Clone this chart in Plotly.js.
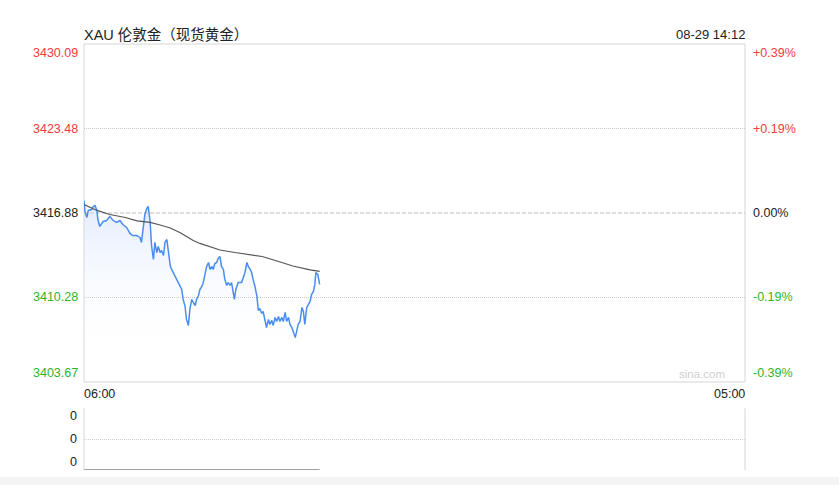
<!DOCTYPE html>
<html>
<head>
<meta charset="utf-8">
<script src="https://cdn.plot.ly/plotly-3.0.1.min.js"></script>
<style>html,body{margin:0;padding:0;background:#fff;}#chart{width:839px;height:485px;}</style>
</head>
<body>
<div id="chart"></div>
<script>
// ---- data (minutes after 06:00) ----
const priceMinutes = [0,2,6,9,16,19,23,27,29,33,40,47,54,61,68,75,81,89,96,102,110,117,120,123,127,131,134,138,141,145,148,152,155,159,162,166,169,173,176,180,183,190,197,204,207,211,214,218,221,225,228,232,235,239,242,246,249,253,256,260,263,267,270,273,277,280,284,287,291,294,298,301,305,308,312,314,317,322,329,333,336,340,343,347,350,353,357,361,364,367,371,374,378,381,385,388,392,395,399,402,406,409,413,416,420,423,427,430,434,437,441,444,447,451,455,458,461,465,468,472,475,479,482,484,488,492];
const priceValues = [3417.86,3417.00,3416.53,3417.08,3417.15,3417.39,3417.47,3417.08,3416.37,3415.83,3416.22,3416.29,3416.61,3416.29,3416.14,3416.29,3415.98,3415.75,3415.28,3415.12,3415.12,3414.97,3414.58,3415.75,3416.76,3417.23,3417.39,3416.22,3414.34,3413.25,3414.58,3413.79,3414.26,3413.79,3413.95,3413.56,3414.58,3414.81,3414.03,3412.78,3412.47,3411.92,3411.45,3410.90,3410.12,3409.58,3408.56,3408.09,3409.34,3410.12,3409.89,3409.65,3410.12,3410.43,3410.90,3411.14,3411.45,3412.23,3412.70,3413.01,3412.47,3412.70,3412.47,3412.93,3413.01,3413.33,3413.48,3412.70,3412.47,3411.69,3411.22,3411.45,3411.22,3411.45,3410.67,3410.12,3410.90,3411.45,3411.45,3411.92,3412.23,3413.01,3412.70,3412.47,3412.23,3411.69,3411.14,3410.36,3409.26,3409.42,3409.03,3409.18,3408.56,3407.93,3408.56,3408.17,3408.48,3408.09,3408.72,3408.40,3408.79,3408.40,3408.72,3408.40,3409.11,3408.40,3408.72,3408.17,3407.93,3407.54,3407.15,3407.62,3408.17,3408.40,3409.50,3409.18,3408.17,3409.50,3409.73,3409.97,3410.51,3410.75,3411.30,3412.23,3412.08,3411.30];
const avgMinutes = [0,19,27,54,86,111,138,159,180,200,215,228,242,263,284,315,347,372,403,436,472,492];
const avgValues = [3417.54,3417.23,3417.08,3416.76,3416.53,3416.26,3416.14,3415.94,3415.71,3415.36,3415.04,3414.73,3414.50,3414.22,3413.99,3413.79,3413.64,3413.48,3413.13,3412.74,3412.43,3412.31];
const volumeMinutes = [0,492];
const volumeValues = [0,0];
const prevClose = 3416.88;
const priceTicks = [3430.09,3423.48,3416.88,3410.28,3403.67];
const pctTicks = ['+0.39%','+0.19%','0.00%','-0.19%','-0.39%'];
const volTicks = [2,1,0];
const volTickLabels = ['0','0','0'];
const timeLabels = ['06:00','05:00'];
const sessionMinutes = 1380;
const titleText = 'XAU 伦敦金（现货黄金）';
const stampText = '08-29 14:12';

// ---- styles ----
const RED = '#f23b3b', GREEN = '#2bb52b', BLACK = '#222';
const FONT = 'Liberation Sans, Arial, Helvetica, sans-serif';
const colorFor = v => v > prevClose ? RED : (v < prevClose ? GREEN : BLACK);

const traces = [
  {x: priceMinutes, y: priceValues, type: 'scatter', mode: 'lines', xaxis: 'x', yaxis: 'y',
   line: {color: '#4a8df0', width: 1.5}, fill: 'tozeroy',
   fillgradient: {type: 'vertical', start: 3405.3, stop: 3418,
     colorscale: [[0, 'rgba(255,255,255,0)'], [1, 'rgba(196,216,250,0.5)']]},
   hoverinfo: 'skip'},
  {x: avgMinutes, y: avgValues, type: 'scatter', mode: 'lines', xaxis: 'x', yaxis: 'y',
   line: {color: '#555', width: 1.2}, hoverinfo: 'skip'},
  {x: volumeMinutes, y: volumeValues, type: 'scatter', mode: 'lines', xaxis: 'x', yaxis: 'y2',
   line: {color: '#a0a0a0', width: 2}, hoverinfo: 'skip'}
];

const annotations = [];
priceTicks.forEach((v, i) => {
  const anchor = i === 0 ? 'top' : (i === priceTicks.length - 1 ? 'bottom' : 'middle');
  annotations.push({x: 0, xref: 'paper', y: v, yref: 'y', xanchor: 'right', yanchor: anchor,
    xshift: -4, text: v.toFixed(2), showarrow: false, font: {family: FONT, size: 12.5, color: colorFor(v)}});
  annotations.push({x: 1, xref: 'paper', y: v, yref: 'y', xanchor: 'left', yanchor: anchor,
    xshift: 6, text: pctTicks[i], showarrow: false, font: {family: FONT, size: 12.5, color: colorFor(v)}});
});
volTicks.forEach((v, i) => {
  const anchor = i === 0 ? 'top' : (i === volTicks.length - 1 ? 'bottom' : 'middle');
  const ys = i === 0 ? 1 : (i === volTicks.length - 1 ? -1 : 0);
  annotations.push({x: 0, xref: 'paper', y: v, yref: 'y2', xanchor: 'right', yanchor: anchor,
    xshift: -5, yshift: ys, text: volTickLabels[i], showarrow: false, font: {family: FONT, size: 12.5, color: BLACK}});
});
annotations.push({x: 0, xref: 'x', y: 0.178, yref: 'paper', xanchor: 'left', yanchor: 'middle',
  xshift: -2, text: timeLabels[0], showarrow: false, font: {family: FONT, size: 12.5, color: BLACK}});
annotations.push({x: sessionMinutes, xref: 'x', y: 0.178, yref: 'paper', xanchor: 'right', yanchor: 'middle',
  xshift: 2, text: timeLabels[1], showarrow: false, font: {family: FONT, size: 12.5, color: BLACK}});
annotations.push({x: 0, xref: 'paper', y: 1, yref: 'paper', xanchor: 'left', yanchor: 'bottom',
  yshift: -1, xshift: -2, text: titleText, showarrow: false,
  font: {family: 'Liberation Sans, Noto Sans CJK SC, sans-serif', size: 14.5, color: BLACK}});
annotations.push({x: 1, xref: 'paper', y: 1, yref: 'paper', xanchor: 'right', yanchor: 'bottom',
  xshift: 2, text: stampText, showarrow: false, font: {family: FONT, size: 13, color: BLACK}});
annotations.push({x: 0.935, xref: 'paper', y: 3403.67, yref: 'y', xanchor: 'center', yanchor: 'bottom',
  text: 'sina.com', showarrow: false, font: {family: FONT, size: 11.5, color: '#cfcfcf'}});

const shapes = [
  // main frame
  {type: 'rect', xref: 'paper', yref: 'y domain', x0: 0, x1: 1, y0: 0, y1: 1, line: {color: '#d6d6d6', width: 1}, layer: 'below'},
  // previous close reference line
  {type: 'line', xref: 'paper', yref: 'y', x0: 0, x1: 1, y0: prevClose, y1: prevClose,
   line: {color: '#bdbdbd', width: 1, dash: '4px,2px'}, layer: 'below'},
  // volume panel side borders
  {type: 'line', xref: 'paper', yref: 'y2 domain', x0: 0, x1: 0, y0: 0, y1: 1, line: {color: '#d6d6d6', width: 1}},
  {type: 'line', xref: 'paper', yref: 'y2 domain', x0: 1, x1: 1, y0: 0, y1: 1, line: {color: '#d6d6d6', width: 1}},
  // bottom grey strip
  {type: 'rect', xref: 'paper', yref: 'paper', x0: -0.13, x1: 1.15, y0: -0.0164, y1: -0.04, fillcolor: '#f4f4f4', line: {width: 0}, layer: 'below'}
];

const layout = {
  width: 839, height: 485,
  margin: {l: 84, r: 94, t: 44, b: 15},
  paper_bgcolor: '#fff', plot_bgcolor: 'rgba(0,0,0,0)',
  showlegend: false,
  font: {family: FONT, size: 12, color: BLACK},
  xaxis: {range: [0, sessionMinutes], showgrid: false, zeroline: false, showticklabels: false,
          ticks: '', showline: false, anchor: 'y2', fixedrange: true},
  yaxis: {domain: [0.2066, 1], range: [priceTicks[4], priceTicks[0]], tickvals: [priceTicks[1], priceTicks[3]],
          showticklabels: false, ticks: '', showgrid: true, gridcolor: '#c8c8c8', griddash: '1px,1px',
          gridwidth: 1, zeroline: false, showline: false},
  yaxis2: {domain: [0, 0.1455], range: [0, 2], tickvals: volTicks, showticklabels: false, ticks: '',
           showgrid: true, gridcolor: '#cfcfcf', griddash: '1px,1px', gridwidth: 1, zeroline: false, showline: false},
  annotations: annotations,
  shapes: shapes
};

Plotly.newPlot('chart', traces, layout, {displayModeBar: false, staticPlot: true});
</script>
</body>
</html>
